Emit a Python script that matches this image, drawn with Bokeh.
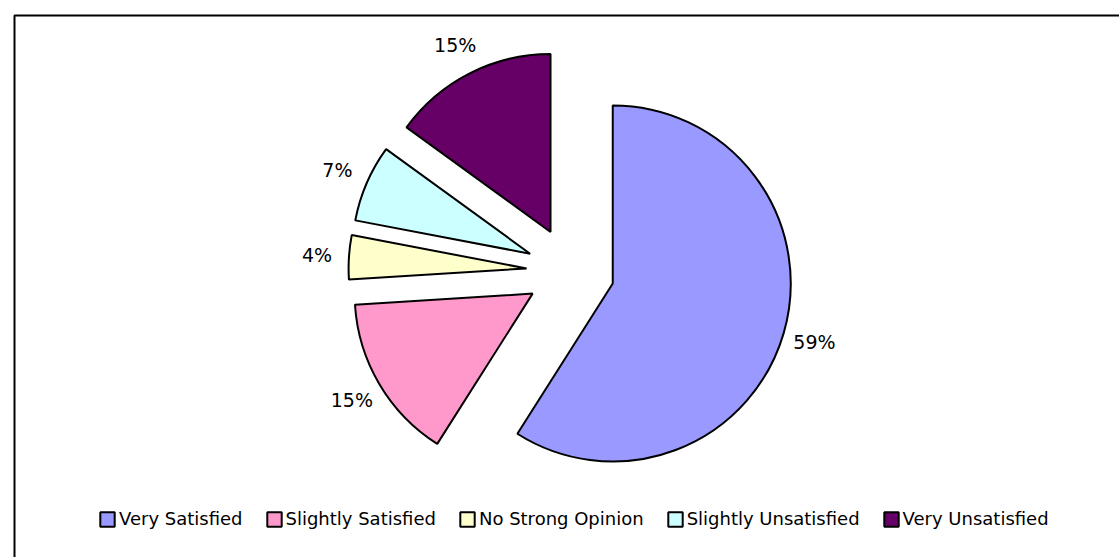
import numpy as np
from bokeh.plotting import figure
from bokeh.models import ColumnDataSource, Range1d, Legend, LegendItem
from bokeh.embed import file_html
from bokeh.resources import INLINE
from bokeh.core.properties import value

# ---- data ----
categories = ["Very Satisfied", "Slightly Satisfied", "No Strong Opinion",
              "Slightly Unsatisfied", "Very Unsatisfied"]
values = [59, 15, 4, 7, 15]
colors = ["#9999FF", "#FF99CC", "#FFFFCC", "#CCFFFF", "#660066"]

# ---- geometry (pixel-space figure) ----
W, H = 1119, 557
cx, cy = 570, H - 270.7
R = 178
EXPLODE = 44
LABEL_R = 210

vals = np.array(values, dtype=float)
frac = vals / vals.sum()
cum = np.concatenate([[0], np.cumsum(frac)])
a0 = cum[:-1] * 2 * np.pi          # clockwise from 12 o'clock
a1 = cum[1:] * 2 * np.pi
mid = (a0 + a1) / 2
xs = cx + EXPLODE * np.sin(mid)
ys = cy + EXPLODE * np.cos(mid)
start = np.pi / 2 - a1
end = np.pi / 2 - a0
lx = cx + (EXPLODE + LABEL_R) * np.sin(mid)
ly = cy + (EXPLODE + LABEL_R) * np.cos(mid)
labels = [f"{round(f * 100)}%" for f in frac]

src = ColumnDataSource(dict(x=xs, y=ys, start=start, end=end, color=colors,
                            cat=categories, lx=lx, ly=ly, lab=labels))

p = figure(width=W, height=H, x_range=Range1d(0, W), y_range=Range1d(0, H),
           output_backend="svg", toolbar_location=None, min_border=0)
p.axis.visible = False
p.grid.visible = False
p.outline_line_color = None
p.background_fill_color = "white"
p.border_fill_color = "white"

# chart border (extends beyond the window on right/bottom)
p.line(x=[W + 20, 14, 14], y=[H - 15, H - 15, -20], line_color="black", line_width=2)

wr = p.wedge(x="x", y="y", radius=R, start_angle="start", end_angle="end",
             direction="anticlock", fill_color="color", line_color="black",
             line_width=2, source=src)

p.text(x="lx", y="ly", text="lab", source=src, text_align="center",
       text_baseline="middle", text_font=value("DejaVu Sans"),
       text_font_size="19px", text_color="black")

items = [LegendItem(label=c, renderers=[wr], index=i) for i, c in enumerate(categories)]
legend = Legend(items=items, orientation="horizontal", location=(98, 28),
                glyph_width=18, glyph_height=18, label_standoff=3, spacing=22,
                padding=0, margin=0, border_line_color=None,
                background_fill_alpha=0, label_text_font="DejaVu Sans",
                label_text_font_size="18px", label_text_color="black")
p.add_layout(legend, "center")

open("out.html", "w").write(file_html(p, INLINE))
